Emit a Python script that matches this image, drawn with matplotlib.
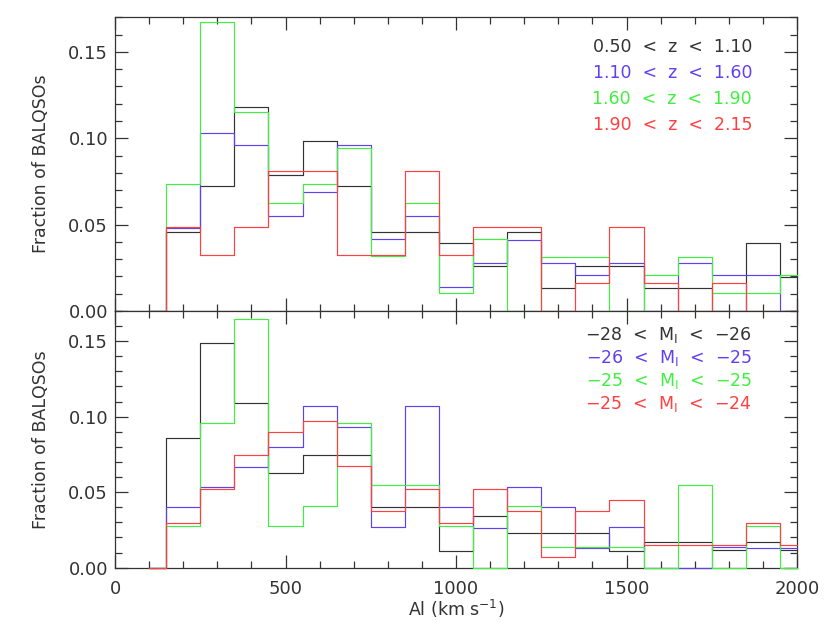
import matplotlib
matplotlib.use('Agg')
import matplotlib.pyplot as plt
import numpy as np
from matplotlib.ticker import MultipleLocator, FormatStrFormatter

# bin centres (km/s), histogram drawn IDL psym=10 style
vel = np.arange(100, 2001, 100)

# top panel: redshift bins
z_labels = ['0.50  <  z  <  1.10', '1.10  <  z  <  1.60',
            '1.60  <  z  <  1.90', '1.90  <  z  <  2.15']
z1 = [0, 0.0459, 0.0721, 0.1182, 0.0789, 0.0984, 0.0721, 0.0459, 0.0459, 0.0395,
      0.0263, 0.0459, 0.0134, 0.0262, 0.0263, 0.0131, 0.0131, 0, 0.0395, 0.0198]
z2 = [0, 0.0483, 0.1033, 0.0963, 0.0552, 0.0688, 0.0963, 0.0415, 0.0552, 0.0140,
      0.0277, 0.0413, 0.0277, 0.0209, 0.0279, 0, 0.0275, 0.0207, 0.0207, 0]
z3 = [0, 0.0733, 0.1674, 0.1151, 0.0628, 0.0733, 0.0942, 0.0316, 0.0628, 0.0105,
      0.0419, 0, 0.0314, 0.0314, 0, 0.0209, 0.0314, 0.0105, 0.0105, 0.0207]
z4 = [0, 0.0486, 0.0326, 0.0486, 0.0808, 0.0808, 0.0326, 0.0326, 0.0808, 0.0326,
      0.0486, 0.0486, 0, 0.0163, 0.0488, 0.0163, 0, 0.0163, 0, 0]

# bottom panel: luminosity bins
m_labels = ['\u221228  <  M$_\\mathregular{I}$  <  \u221226',
            '\u221226  <  M$_\\mathregular{I}$  <  \u221225',
            '\u221225  <  M$_\\mathregular{I}$  <  \u221225',
            '\u221225  <  M$_\\mathregular{I}$  <  \u221224']
m1 = [0, 0.0861, 0.1490, 0.1089, 0.0629, 0.0744, 0.0744, 0.0401, 0.0401, 0.0113,
      0.0341, 0.0228, 0.0228, 0.0228, 0.0113, 0.0171, 0.0171, 0.0118, 0.0171, 0.0118]
m2 = [0, 0.0401, 0.0534, 0.0667, 0.0801, 0.1069, 0.0934, 0.0268, 0.1069, 0.0401,
      0.0266, 0.0534, 0.0401, 0.0131, 0.0268, 0, 0, 0.0135, 0.0133, 0.0133]
m3 = [0, 0.0275, 0.0959, 0.1649, 0.0275, 0.0410, 0.0959, 0.0547, 0.0547, 0.0275,
      0, 0.0410, 0.0135, 0.0135, 0.0135, 0, 0.0547, 0, 0.0277, 0]
m4 = [0, 0.0299, 0.0523, 0.0746, 0.0896, 0.0972, 0.0675, 0.0374, 0.0523, 0.0299,
      0.0520, 0.0374, 0.0073, 0.0374, 0.0450, 0.0149, 0.0149, 0.0149, 0.0299, 0.0149]

colors = ['#333333', '#6040f0', '#40f040', '#ff4040']
axcol = '#333333'

plt.rcParams['font.family'] = 'DejaVu Sans'
plt.rcParams['font.size'] = 12.5

fig = plt.figure(figsize=(8.3, 6.23), dpi=100)
ax_top = fig.add_axes([0.1386, 0.5008, 0.8217, 0.4714])
ax_bot = fig.add_axes([0.1386, 0.0888, 0.8217, 0.4120])


def style(ax, show_x):
    ax.set_xlim(0, 2000)
    ax.set_ylim(0, 0.17)
    ax.xaxis.set_major_locator(MultipleLocator(500))
    ax.xaxis.set_minor_locator(MultipleLocator(100))
    ax.yaxis.set_major_locator(MultipleLocator(0.05))
    ax.yaxis.set_minor_locator(MultipleLocator(0.01))
    ax.yaxis.set_major_formatter(FormatStrFormatter('%.2f'))
    ax.tick_params(which='both', direction='in', top=True, right=True,
                   color=axcol, labelcolor=axcol, width=0.9)
    ax.tick_params(which='major', length=9.5)
    ax.tick_params(which='minor', length=5)
    ax.tick_params(axis='y', pad=5, labelsize=13)
    ax.tick_params(axis='x', pad=9, labelbottom=show_x, labelsize=13)
    for s in ax.spines.values():
        s.set_color(axcol)
        s.set_linewidth(0.9)
    ax.set_ylabel('Fraction of BALQSOs', color=axcol, labelpad=13)


def draw(ax, series, labels, ytxt):
    for vals, c, lab, yt in zip(series, colors, labels, ytxt):
        ax.step(vel, vals, where='mid', color=c, lw=0.85, clip_on=False, zorder=3)
        ax.text(0.934, yt, lab, color=c, transform=ax.transAxes,
                ha='right', va='center', fontsize=12.5)


style(ax_top, False)
style(ax_bot, True)
draw(ax_top, [z1, z2, z3, z4], z_labels, [0.9, 0.81, 0.722, 0.633])
draw(ax_bot, [m1, m2, m3, m4], m_labels, [0.905, 0.815, 0.726, 0.637])
ax_bot.set_xlabel('Al (km s$^{\\mathregular{-1}}$)', color=axcol, labelpad=0)

fig.savefig('out.png', dpi=100)
